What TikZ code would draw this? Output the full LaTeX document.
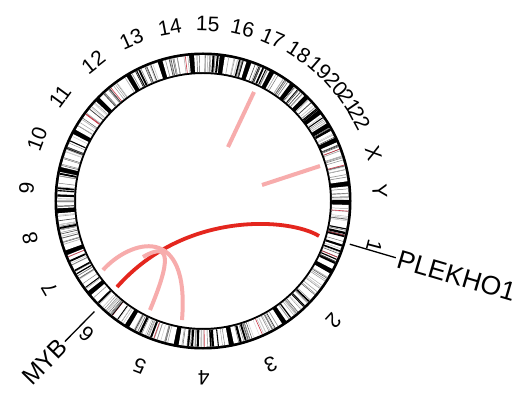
\documentclass[tikz,border=0pt]{standalone}
\usepackage{fontspec}
\setmainfont{Liberation Sans}
\definecolor{linkred}{RGB}{228,38,30}
\definecolor{linkpink}{RGB}{247,172,172}
\definecolor{bandred}{RGB}{205,60,75}
\begin{document}
\begin{tikzpicture}[x=1pt,y=1pt,
  chrlabel/.style={font=\fontsize{21}{21}\selectfont, inner sep=0pt},
  genelabel/.style={font=\fontsize{26.5}{26.5}\selectfont, inner sep=0pt},
  leader/.style={line width=1.3pt, black},
  pinklink/.style={line width=4pt, linkpink},
  redlink/.style={line width=3.8pt, linkred}]
\useasboundingbox (-203,-192) rectangle (321,201);
\fill[white] (-203,-192) rectangle (321,201);
% ideogram ring base
\fill[black, even odd rule] (0,0) circle[radius=148.5] (0,0) circle[radius=127];
\pgfmathsetseed{7}
\foreach \nm/\cum/\sz [count=\ck] in {1/0/249, 2/249/243, 3/492/198, 4/690/191,
   5/881/181, 6/1062/171, 7/1233/159, 8/1392/146, 9/1538/141, 10/1679/136,
   11/1815/135, 12/1950/133, 13/2083/115, 14/2198/107, 15/2305/102, 16/2407/90,
   17/2497/81, 18/2578/78, 19/2656/59, 20/2715/63, 21/2778/48, 22/2826/51,
   X/2877/155, Y/3032/59} {
  \pgfmathsetmacro\csa{-1-(\ck-1)*0.9-\cum*0.109479}
  \pgfmathsetmacro\cea{\csa-\sz*0.109479}
  \pgfmathsetmacro\cmid{(\csa+\cea)/2}
  \pgfmathsetmacro\sai{\csa-0.55}
  \pgfmathsetmacro\eai{\cea+0.55}
  \fill[white] (\sai:145.8) arc[start angle=\sai, end angle=\eai, radius=145.8]
     -- (\eai:129) arc[start angle=\eai, end angle=\sai, radius=129] -- cycle;
  \pgfmathtruncatemacro\nb{\sz/8}
  \foreach \j in {1,...,\nb} {
    \pgfmathsetmacro\ang{\sai-(\sai-\eai)*(0.04+0.92*rnd)}
    \pgfmathsetmacro\bt{rnd}
    \ifdim\bt pt<0.06pt
      \draw[bandred, line width=0.6pt] (\ang:129) -- (\ang:145.8);
    \else\ifdim\bt pt<0.18pt
      \pgfmathsetmacro\lw{0.9+1.5*rnd}
      \draw[black, line width=\lw pt] (\ang:129) -- (\ang:145.8);
    \else
      \pgfmathtruncatemacro\gl{15+65*rnd}
      \pgfmathsetmacro\lw{0.35+0.4*rnd}
      \draw[black!\gl, line width=\lw pt] (\ang:129) -- (\ang:145.8);
    \fi\fi
  }
  \node[chrlabel, rotate=\cmid-90] (lab\ck) at (\cmid:177) {\nm};
}
% links
\coordinate (ra) at (116,-35);
\coordinate (rb) at (-86,-86);
\draw[redlink] (ra) .. controls (87,-17) and (-18,-9) .. (rb);
\coordinate (pa1) at (-100,-69);
\coordinate (pa2) at (-21,-119);
\draw[pinklink] (pa1) .. controls (-73,-39) and (-13,-21) .. (pa2);
\coordinate (pb1) at (-53,-109);
\coordinate (pb2) at (-60,-56);
\draw[pinklink] (pb1) .. controls (-33,-61) and (-31,-39) .. (pb2);
\coordinate (pc1) at (51,109);
\coordinate (pc2) at (25,54);
\draw[pinklink] (pc1) -- (pc2);
\coordinate (pd1) at (117,35);
\coordinate (pd2) at (59,16);
\draw[pinklink] (pd1) -- (pd2);
% gene labels
\coordinate (pk1) at (-16.4:153);
\coordinate (pk2) at (-16.4:201);
\draw[leader] (pk1) -- (pk2);
\node[genelabel, anchor=west, rotate=-16.4] (plekho) at (-16.4:203) {PLEKHO1};
\coordinate (my1) at (225.5:155);
\coordinate (my2) at (225.5:197);
\draw[leader] (my1) -- (my2);
\node[genelabel, font=\fontsize{24.5}{24.5}\selectfont, anchor=east, rotate=45.5] (myb) at (225.5:199) {MYB};
\end{tikzpicture}
\end{document}
